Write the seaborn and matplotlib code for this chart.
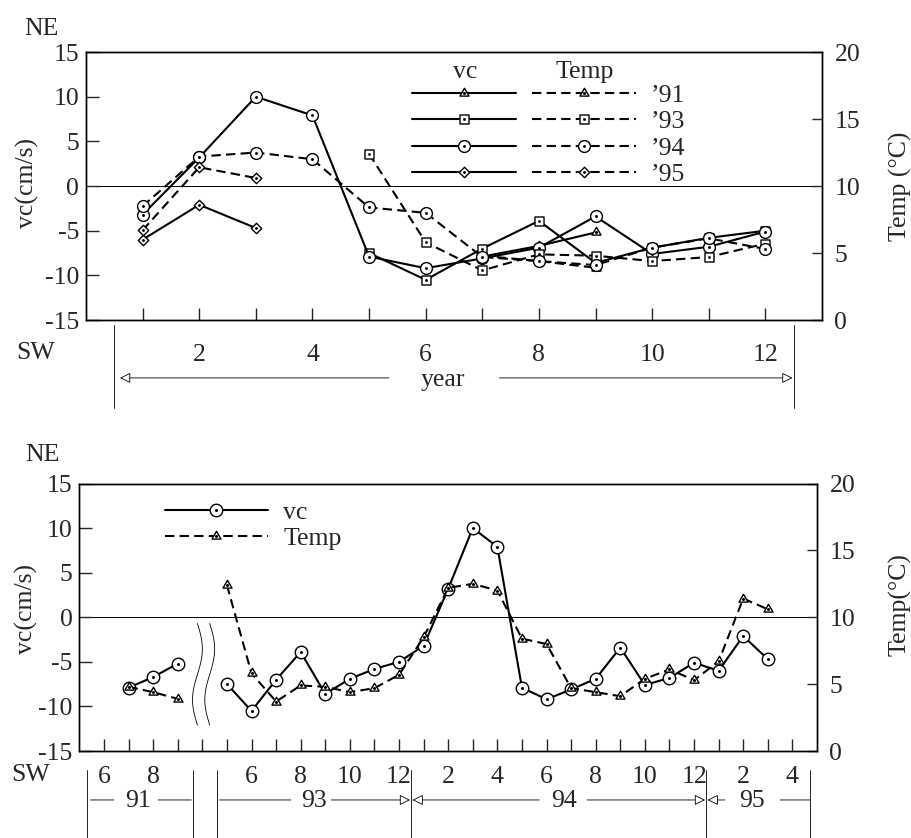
import numpy as np
import seaborn as sns
import matplotlib.pyplot as plt
from matplotlib.path import Path
from matplotlib.legend_handler import HandlerTuple

# monthly mean values (vc in cm/s, Temp in degC)
months_91 = [7, 8, 9]
vc_91 = [-7.9, -6.7, -5.2]
temp_91 = [4.8, 4.4, 3.9]

months_93 = [5, 6, 7, 8, 9, 10, 11, 12]
vc_93 = [-7.5, -10.5, -7.0, -3.9, -8.6, -6.9, -5.8, -5.0]
temp_93 = [12.4, 5.8, 3.7, 4.9, 4.8, 4.4, 4.7, 5.7]

months_94 = [1, 2, 3, 4, 5, 6, 7, 8, 9, 10, 11, 12]
vc_94 = [-3.2, 3.2, 10.0, 7.9, -7.9, -9.2, -8.1, -6.9, -3.4, -7.6, -6.8, -5.1]
temp_94 = [8.5, 12.2, 12.5, 12.0, 8.4, 8.0, 4.7, 4.4, 4.1, 5.4, 6.1, 5.3]

months_95 = [1, 2, 3]
vc_95 = [-6.0, -2.1, -4.7]
temp_95 = [6.7, 11.4, 10.6]

year_labels = ["\u201991", "\u201993", "\u201994", "\u201995"]

top_ticks = [1, 2, 3, 4, 5, 6, 7, 8, 9, 10, 11, 12]
top_ticklabels = ["", "2", "", "4", "", "6", "", "8", "", "10", "", "12"]

# bottom panel: one slot per month, slot 4 is the break between 91 and 93
slot_offset = {"91": -6, "93": 0, "94": 12, "95": 24}
bottom_ticklabels = ["6", "", "8", "", "", "", "6", "", "8", "", "10", "", "12", "",
                     "2", "", "4", "", "6", "", "8", "", "10", "", "12", "", "2", "", "4"]


def dotted(verts, r):
    outline = Path(verts + [verts[0]], closed=True)
    return Path.make_compound_path(outline, Path.circle((0, 0), r))


circ = Path.make_compound_path(Path.unit_circle(), Path.circle((0, 0), 0.13))
tri = dotted([(0, 1), (-0.87, -0.5), (0.87, -0.5)], 0.16)
sqr = dotted([(-1, -1), (1, -1), (1, 1), (-1, 1)], 0.16)
dia = dotted([(0, 1), (1, 0), (0, -1), (-1, 0)], 0.14)

sns.set_style("ticks")
plt.rcParams["font.family"] = ["Liberation Serif", "DejaVu Serif"]
plt.rcParams["axes.unicode_minus"] = False

FS = 18.5
LW = 1.5
DASH = (0, (4.5, 2.5))
mk = dict(markerfacecolor="white", markeredgecolor="k", markeredgewidth=1.0)

fig = plt.figure(figsize=(9.12, 8.38), dpi=100, facecolor="white")
ax1 = fig.add_axes([0.0943, 0.6181, 0.807, 0.3198])
ax1t = ax1.twinx()
ax2 = fig.add_axes([0.0871, 0.1038, 0.8087, 0.3192])
ax2t = ax2.twinx()

# ---------------- top panel: by month, one line per year
top_series = [
    (months_91, vc_91, temp_91, tri, 7.5),
    (months_93, vc_93, temp_93, sqr, 6.5),
    (months_94, vc_94, temp_94, circ, 8.5),
    (months_95, vc_95, temp_95, dia, 7.5),
]
handles = []
for m, vc, temp, marker, ms in top_series:
    sns.lineplot(x=m, y=vc, ax=ax1, color="k", linewidth=LW, marker=marker,
                 markersize=ms, **mk)
    h_vc = ax1.lines[-1]
    sns.lineplot(x=m, y=temp, ax=ax1t, color="k", linewidth=LW, linestyle=DASH,
                 marker=marker, markersize=ms, **mk)
    h_t = ax1t.lines[-1]
    handles.append((h_vc, h_t))

ax1.axhline(0, color="k", lw=0.7, zorder=0)
ax1.set_xlim(0, 13)
ax1.set_ylim(-15, 15)
ax1.set_yticks(range(-15, 16, 5))
ax1.set_xticks(top_ticks)
ax1.set_xticklabels(top_ticklabels)
ax1t.set_ylim(0, 20)
ax1t.set_yticks(range(0, 21, 5))
ax1.set_ylabel("vc(cm/s)", fontsize=FS)
ax1.yaxis.set_label_coords(-0.064, 0.51)
ax1t.set_ylabel("Temp (\u00b0C)", fontsize=FS, rotation=90)
ax1t.yaxis.set_label_coords(1.091, 0.5)

leg = ax1t.legend(handles, year_labels,
                  handler_map={tuple: HandlerTuple(ndivide=None, pad=0.6)},
                  handlelength=8.7, numpoints=1, frameon=False, loc="upper left",
                  bbox_to_anchor=(0.443, 0.882), borderaxespad=0, borderpad=0,
                  labelspacing=0.14, handletextpad=0.6, fontsize=FS)
ax1.text(0.515, 0.903, "vc", transform=ax1.transAxes, ha="center", va="baseline", fontsize=FS)
ax1.text(0.678, 0.903, "Temp", transform=ax1.transAxes, ha="center", va="baseline", fontsize=FS)

# ---------------- bottom panel: continuous time series
seg_a = [(months_91, vc_91, temp_91, "91")]
seg_b = [(months_93, vc_93, temp_93, "93"), (months_94, vc_94, temp_94, "94"),
         (months_95, vc_95, temp_95, "95")]
for group in (seg_a, seg_b):
    x = [mm + slot_offset[y] for m, _, _, y in group for mm in m]
    vc = [v for _, v_, _, _ in group for v in v_]
    temp = [t for _, _, t_, _ in group for t in t_]
    sns.lineplot(x=x, y=vc, ax=ax2, color="k", linewidth=LW, marker=circ,
                 markersize=9.0, **mk)
    h_vc2 = ax2.lines[-1]
    sns.lineplot(x=x, y=temp, ax=ax2t, color="k", linewidth=LW, linestyle=DASH,
                 marker=tri, markersize=7.5, **mk)
    h_t2 = ax2t.lines[-1]

ax2.axhline(0, color="k", lw=0.7, zorder=0)
t = np.linspace(0, 1, 80)
for x0 in (3.8, 4.3):
    ax2.plot(x0 + 0.2 * np.sin(2 * np.pi * t), -0.7 - 11.4 * t, color="k", lw=0.6)
ax2.set_xlim(-1, 29)
ax2.set_ylim(-15, 15)
ax2.set_yticks(range(-15, 16, 5))
ax2.set_xticks(range(len(bottom_ticklabels)))
ax2.set_xticklabels(bottom_ticklabels)
ax2t.set_ylim(0, 20)
ax2t.set_yticks(range(0, 21, 5))
ax2.set_ylabel("vc(cm/s)", fontsize=FS)
ax2.yaxis.set_label_coords(-0.056, 0.53)
ax2t.set_ylabel("Temp(\u00b0C)", fontsize=FS, rotation=90)
ax2t.yaxis.set_label_coords(1.097, 0.546)
ax2t.legend([h_vc2, h_t2], ["vc", "Temp"], handlelength=4.0, numpoints=1,
            frameon=False, loc="upper left", bbox_to_anchor=(0.116, 0.935),
            borderaxespad=0, borderpad=0, labelspacing=0.14, handletextpad=0.6,
            fontsize=FS)

for a in (ax1, ax1t, ax2, ax2t):
    a.tick_params(direction="in", labelsize=FS, width=1.0)
    for s in a.spines.values():
        s.set_linewidth(1.0)
        s.set_color("k")
for a in (ax1, ax2):
    a.tick_params(axis="y", length=9, pad=5)
for a in (ax1t, ax2t):
    a.tick_params(axis="y", length=7, pad=9)
ax1.tick_params(axis="x", length=9, pad=17)
ax2.tick_params(axis="x", length=9, pad=11)

# NE / SW marks
ax1.text(-0.06, 1.085, "NE", transform=ax1.transAxes, ha="center", va="center", fontsize=FS)
ax1.text(-0.069, -0.123, "SW", transform=ax1.transAxes, ha="center", va="center", fontsize=FS)
ax2.text(-0.05, 1.107, "NE", transform=ax2.transAxes, ha="center", va="center", fontsize=FS)
ax2.text(-0.066, -0.09, "SW", transform=ax2.transAxes, ha="center", va="center", fontsize=FS)


def seg(ax, x0, x1, y, head=False):
    tr = ax.get_xaxis_transform()
    ax.annotate("", xy=(x1, y), xytext=(x0, y), xycoords=tr, textcoords=tr,
                annotation_clip=False,
                arrowprops=dict(arrowstyle="-|>" if head else "-", fc="white",
                                ec="k", lw=0.6, shrinkA=0, shrinkB=0,
                                mutation_scale=16))


def vline(ax, x, y0, y1):
    ax.plot([x, x], [y0, y1], transform=ax.get_xaxis_transform(), color="k",
            lw=0.6, clip_on=False)


# year span under top panel
for xv in (0.5, 12.5):
    vline(ax1, xv, -0.02, -0.33)
seg(ax1, 5.35, 0.6, -0.216, head=True)
seg(ax1, 7.3, 12.48, -0.216, head=True)
ax1.text(6.3, -0.222, "year", transform=ax1.get_xaxis_transform(), ha="center",
         va="center", fontsize=FS)

# year spans under bottom panel
yb = -0.183
for xv in (-0.7, 3.6, 4.6, 12.5, 24.5, 28.7):
    vline(ax2, xv, -0.07, -0.33)
seg(ax2, -0.55, 0.4, yb)
seg(ax2, 2.2, 3.55, yb)
seg(ax2, 4.7, 7.6, yb)
seg(ax2, 9.25, 12.45, yb, head=True)
seg(ax2, 17.7, 12.55, yb, head=True)
seg(ax2, 19.65, 24.45, yb, head=True)
seg(ax2, 25.25, 24.55, yb, head=True)
seg(ax2, 27.5, 28.7, yb)
for xt, lab in zip((1.37, 8.55, 18.7, 26.35), ("91", "93", "94", "95")):
    ax2.text(xt, yb - 0.005, lab, transform=ax2.get_xaxis_transform(), ha="center",
             va="center", fontsize=FS)

fig.savefig("out.png", dpi=100, facecolor="white")
